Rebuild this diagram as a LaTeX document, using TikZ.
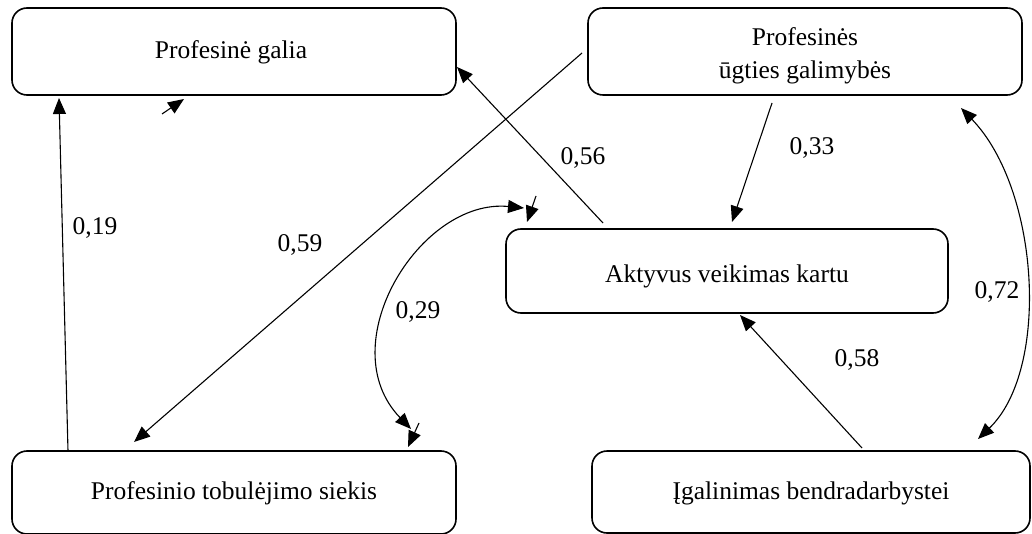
\documentclass[tikz,border=0pt]{standalone}
\usepackage{fontspec}
\setmainfont{Liberation Serif}
\usetikzlibrary{arrows.meta,calc}
\begin{document}
\begin{tikzpicture}[x=1pt,y=-1pt,
  box/.style={draw,line width=1.6pt,rounded corners=15pt,inner sep=0pt,outer sep=0pt,
    align=center,font=\fontsize{25.5}{33}\selectfont},
  boxtext/.style={inner sep=0pt,align=center,font=\fontsize{25.5}{33}\selectfont},
  link/.style={line width=1.1pt,-{Triangle[length=16pt,width=13pt]}},
  dlink/.style={line width=1.1pt,{Triangle[length=16pt,width=13pt]}-{Triangle[length=16pt,width=13pt]}},
  coef/.style={font=\fontsize{25.5}{30}\selectfont}]
\useasboundingbox (0,0) rectangle (1032,534);
% boxes
\node[box,minimum width=444pt,minimum height=87pt] (A) at (234,51.5) {};
\node[box,minimum width=434pt,minimum height=87pt] (B) at (805,51.5) {};
\node[box,minimum width=442pt,minimum height=84pt] (C) at (727,271) {};
\node[box,minimum width=444pt,minimum height=83pt] (D) at (234,492.5) {};
\node[box,minimum width=438pt,minimum height=82pt] (E) at (811,492) {};
% box captions
\node[boxtext] (tA) at ($(A.center)+(-3,1)$) {Profesinė galia};
\node[boxtext] (tB) at ($(B.center)+(0,4)$) {Profesinės\\ūgties galimybės};
\node[boxtext] (tC) at ($(C.center)+(0,5)$) {Aktyvus veikimas kartu};
\node[boxtext] (tD) at ($(D.center)+(0,1)$) {Profesinio tobulėjimo siekis};
\node[boxtext] (tE) at ($(E.center)+(0,1)$) {Įgalinimas bendradarbystei};
% free ends of the short marks
\coordinate (m1s) at ($(A.south west)+(150,19)$);
\coordinate (m1e) at ($(A.south west)+(172,4)$);
\coordinate (m2s) at ($(C.north west)+(30,-33)$);
\coordinate (m2e) at ($(C.north west)+(21,-7)$);
\coordinate (m3s) at ($(D.north west)+(407,-28)$);
\coordinate (m3e) at ($(D.north west)+(396,-4)$);
% straight paths
\draw[link] ($(D.north west)+(56,0)$) -- ($(A.south west)+(47,3)$);
\draw[link] ($(B.west)+(-6,1.5)$) -- ($(D.north west)+(122,-9)$);
\draw[link] ($(C.north west)+(97,-6)$) -- ($(A.south east)+(1,-28)$);
\draw[link] ($(B.south west)+(184,8)$) -- ($(C.north west)+(226,-7)$);
\draw[link] ($(E.north west)+(270,-3)$) -- ($(C.south west)+(234,2)$);
\draw[link] (m1s) -- (m1e);
\draw[link] (m2s) -- (m2e);
\draw[link] (m3s) -- (m3e);
% correlations
\draw[dlink] ($(C.north west)+(18,-21)$) .. controls (420,198) and (330,345) .. ($(D.north west)+(399,-22)$);
\draw[dlink] ($(B.south east)+(-61,13)$) .. controls (1040,190) and (1050,370) .. ($(E.north east)+(-52,-12)$);
% coefficients
\node[coef] (k1) at (95,228) {0,19};
\node[coef] (k2) at (300,245) {0,59};
\node[coef] (k3) at (583,158) {0,56};
\node[coef] (k4) at (812,148) {0,33};
\node[coef] (k5) at (418,312) {0,29};
\node[coef] (k6) at (997,292) {0,72};
\node[coef] (k7) at (857,360) {0,58};
\end{tikzpicture}
\end{document}
